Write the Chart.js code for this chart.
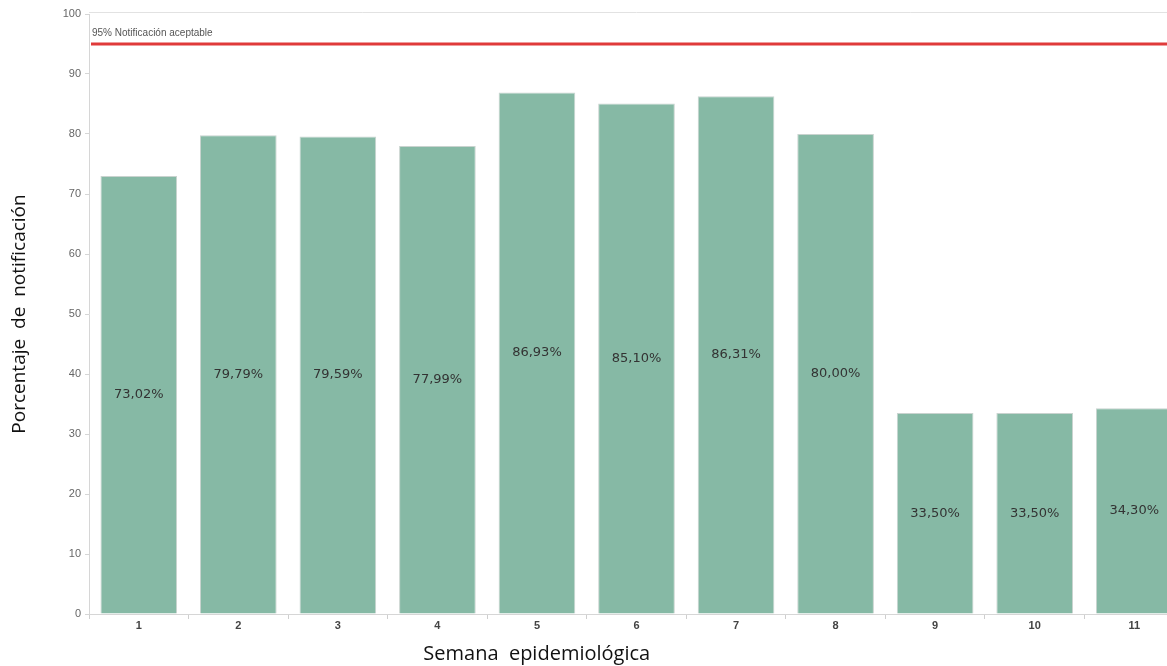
<!DOCTYPE html>
<html>
<head>
<meta charset="utf-8">
<script src="https://cdn.jsdelivr.net/npm/chart.js@4.4.1/dist/chart.umd.min.js"></script>
<style>
  html, body { margin: 0; padding: 0; background: #fff; overflow: hidden; }
  #wrap { width: 1190px; height: 666px; position: relative; }
</style>
</head>
<body>
<div id="wrap"><canvas id="notifChart"></canvas></div>
<script>
// semanas y porcentajes
const semanas = ['1', '2', '3', '4', '5', '6', '7', '8', '9', '10', '11'];
const porcentajes = [73.02, 79.79, 79.59, 77.99, 86.93, 85.10, 86.31, 80.00, 33.50, 33.50, 34.30];
const metaValor = 95;
const metaTexto = '95% Notificación aceptable';
const tituloX = 'Semana  epidemiológica';

const fmt = v => v.toFixed(2).replace('.', ',') + '%';

// etiquetas dentro de las barras, linea de meta y titulo del eje x
const extras = {
  id: 'extras',
  afterDatasetsDraw(chart) {
    const { ctx, chartArea, scales } = chart;
    ctx.save();

    // borde superior
    ctx.strokeStyle = '#e2e2e2';
    ctx.lineWidth = 1;
    ctx.beginPath();
    ctx.moveTo(chartArea.left, chartArea.top - 1.5);
    ctx.lineTo(chartArea.right, chartArea.top - 1.5);
    ctx.stroke();

    // linea 95%
    const yMeta = scales.y.getPixelForValue(metaValor);
    ctx.strokeStyle = '#e03a3a';
    ctx.lineWidth = 3;
    ctx.beginPath();
    ctx.moveTo(chartArea.left + 2, yMeta);
    ctx.lineTo(chartArea.right, yMeta);
    ctx.stroke();
    ctx.fillStyle = '#555';
    ctx.font = '10px "Liberation Sans", Arial, sans-serif';
    ctx.textAlign = 'left';
    ctx.textBaseline = 'bottom';
    ctx.fillText(metaTexto, chartArea.left + 3, yMeta - 6);

    // valores
    const meta = chart.getDatasetMeta(0);
    ctx.fillStyle = '#333';
    ctx.font = '13px "DejaVu Sans", sans-serif';
    ctx.textAlign = 'center';
    ctx.textBaseline = 'middle';
    meta.data.forEach((bar, i) => {
      const mid = (bar.y + bar.base) / 2;
      ctx.fillText(fmt(porcentajes[i]), bar.x, mid);
    });

    // titulo eje x (centrado en la figura original, no en el area visible)
    ctx.fillStyle = '#111';
    ctx.font = '20px "Open Sans", sans-serif';
    ctx.textBaseline = 'middle';
    ctx.fillText(tituloX, (scales.x.getPixelForValue(4) + scales.x.getPixelForValue(5)) / 2 - 50, chart.height - 12);
    ctx.restore();
  }
};

new Chart(document.getElementById('notifChart'), {
  type: 'bar',
  data: {
    labels: semanas,
    datasets: [{
      label: 'Porcentaje de notificación',
      data: porcentajes,
      backgroundColor: '#86b9a5',
      borderColor: '#c9d3cf',
      borderWidth: 1,
      barPercentage: 0.77,
      categoryPercentage: 1
    }]
  },
  options: {
    responsive: true,
    maintainAspectRatio: false,
    animation: false,
    layout: { padding: { top: 14, right: 6, left: 0, bottom: 0 } },
    plugins: {
      legend: { display: false },
      tooltip: { enabled: false }
    },
    scales: {
      x: {
        grid: { drawOnChartArea: false, color: '#cfcfcf', tickLength: 5 },
        border: { color: '#d6d6d6' },
        ticks: {
          color: '#444',
          font: { size: 11, weight: 'bold', family: '"Liberation Sans", Arial, sans-serif' },
          padding: 0
        },
        afterFit: s => { s.height = 52; }
      },
      y: {
        min: 0,
        max: 100,
        ticks: {
          stepSize: 10,
          color: '#666',
          font: { size: 11, family: '"Liberation Sans", Arial, sans-serif' },
          padding: 4
        },
        grid: { drawOnChartArea: false, color: '#d6d6d6', tickLength: 4 },
        border: { color: '#d6d6d6' },
        title: {
          display: true,
          text: 'Porcentaje  de  notificación',
          color: '#111',
          font: { size: 19, family: '"Open Sans", sans-serif' },
          padding: { top: 8, bottom: 0 }
        },
        afterFit: s => { s.width = 89; }
      }
    }
  },
  plugins: [extras]
});
</script>
</body>
</html>
